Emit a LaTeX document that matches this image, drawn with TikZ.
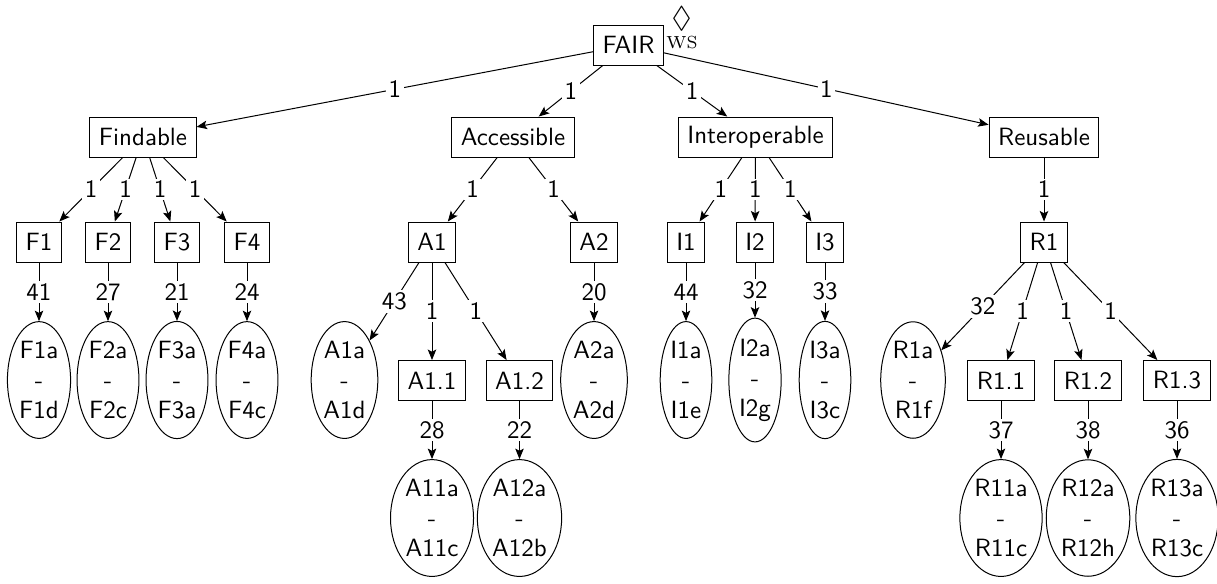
\documentclass[tikz,border=0pt]{standalone}
\usepackage{amsmath,amssymb}
\usetikzlibrary{shapes.geometric,arrows.meta}
\begin{document}
\begin{tikzpicture}[x=0.4pt,y=-0.4pt,
  every node/.style={font=\sffamily},
  box/.style={draw, rectangle, minimum height=16pt, inner xsep=3.6pt},
  leaf/.style={draw, ellipse, align=center, inner sep=1pt},
  edge/.style={-{Stealth[length=4.2pt,width=3.4pt,inset=0.9pt]}},
  lbl/.style={fill=white, inner sep=1pt, midway}]
\useasboundingbox (0,0) rectangle (1217,583);

% root with its WS marker
\node[box] (fair) at (628.5,45) {FAIR};
\node[font=\rmfamily\large, inner sep=0pt] (wsmark) at (681.5,19) {$\Diamond$};
\node[font=\rmfamily\scriptsize, inner sep=0pt] (ws) at (682,42.5) {WS};

% principles
\node[box] (fin) at (143,137) {Findable};
\node[box] (acc) at (513,137) {Accessible};
\node[box] (int) at (755.5,137) {Interoperable};
\node[box] (reu) at (1044,137) {Reusable};

% Findable branch
\node[box] (f1) at (39,242) {F1};
\node[box] (f2) at (108,242) {F2};
\node[box] (f3) at (177,242) {F3};
\node[box] (f4) at (247,242) {F4};
\node[leaf] (f1a) at (39,380) {F1a\\-\\F1d};
\node[leaf] (f2a) at (108,380) {F2a\\-\\F2c};
\node[leaf] (f3a) at (177,380) {F3a\\-\\F3a};
\node[leaf] (f4a) at (247,380) {F4a\\-\\F4c};

% Accessible branch
\node[box] (a1) at (432,242) {A1};
\node[box] (a2) at (594,242) {A2};
\node[leaf] (a1a) at (344.5,380) {A1a\\-\\A1d};
\node[box] (a11) at (432,380.5) {A1.1};
\node[box] (a12) at (519.5,380.5) {A1.2};
\node[leaf] (a2a) at (594,380) {A2a\\-\\A2d};
\node[leaf] (a11a) at (432,518) {A11a\\-\\A11c};
\node[leaf] (a12a) at (519.5,518) {A12a\\-\\A12b};

% Interoperable branch
\node[box] (i1) at (686,242) {I1};
\node[box] (i2) at (755,242) {I2};
\node[box] (i3) at (825,242) {I3};
\node[leaf] (i1a) at (686,380) {I1a\\-\\I1e};
\node[leaf] (i2a) at (755,380) {I2a\\-\\I2g};
\node[leaf] (i3a) at (825,380) {I3a\\-\\I3c};

% Reusable branch
\node[box] (r1) at (1044,242) {R1};
\node[leaf] (r1a) at (913,380) {R1a\\-\\R1f};
\node[box] (r11) at (1001,380.5) {R1.1};
\node[box] (r12) at (1088,380.5) {R1.2};
\node[box] (r13) at (1177,380.5) {R1.3};
\node[leaf] (r11a) at (1001,518) {R11a\\-\\R11c};
\node[leaf] (r12a) at (1088,518) {R12a\\-\\R12h};
\node[leaf] (r13a) at (1177,518) {R13a\\-\\R13c};

% connectors
\draw[edge] (fair) -- node[lbl]{1} (fin);
\draw[edge] (fair) -- node[lbl]{1} (acc);
\draw[edge] (fair) -- node[lbl]{1} (int);
\draw[edge] (fair) -- node[lbl]{1} (reu);

\draw[edge] (fin) -- node[lbl]{1} (f1);
\draw[edge] (fin) -- node[lbl]{1} (f2);
\draw[edge] (fin) -- node[lbl]{1} (f3);
\draw[edge] (fin) -- node[lbl]{1} (f4);
\draw[edge] (f1) -- node[lbl]{41} (f1a);
\draw[edge] (f2) -- node[lbl]{27} (f2a);
\draw[edge] (f3) -- node[lbl]{21} (f3a);
\draw[edge] (f4) -- node[lbl]{24} (f4a);

\draw[edge] (acc) -- node[lbl]{1} (a1);
\draw[edge] (acc) -- node[lbl]{1} (a2);
\draw[edge] (a1) -- node[lbl]{43} (a1a);
\draw[edge] (a1) -- node[lbl]{1} (a11);
\draw[edge] (a1) -- node[lbl]{1} (a12);
\draw[edge] (a2) -- node[lbl]{20} (a2a);
\draw[edge] (a11) -- node[lbl]{28} (a11a);
\draw[edge] (a12) -- node[lbl]{22} (a12a);

\draw[edge] (int) -- node[lbl]{1} (i1);
\draw[edge] (int) -- node[lbl]{1} (i2);
\draw[edge] (int) -- node[lbl]{1} (i3);
\draw[edge] (i1) -- node[lbl]{44} (i1a);
\draw[edge] (i2) -- node[lbl]{32} (i2a);
\draw[edge] (i3) -- node[lbl]{33} (i3a);

\draw[edge] (reu) -- node[lbl]{1} (r1);
\draw[edge] (r1) -- node[lbl]{32} (r1a);
\draw[edge] (r1) -- node[lbl]{1} (r11);
\draw[edge] (r1) -- node[lbl]{1} (r12);
\draw[edge] (r1) -- node[lbl]{1} (r13);
\draw[edge] (r11) -- node[lbl]{37} (r11a);
\draw[edge] (r12) -- node[lbl]{38} (r12a);
\draw[edge] (r13) -- node[lbl]{36} (r13a);
\end{tikzpicture}
\end{document}
